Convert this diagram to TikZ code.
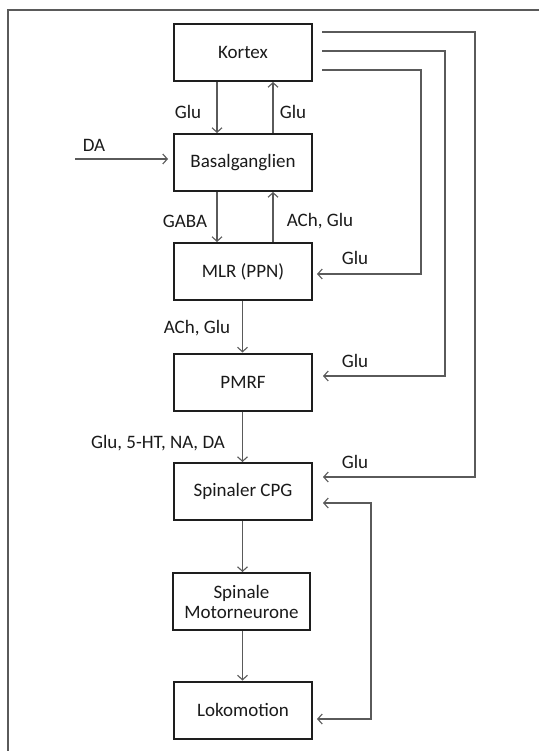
\documentclass[tikz,border=0pt]{standalone}
\usepackage{fontspec}
\setmainfont{Carlito}
\usetikzlibrary{arrows.meta}
\definecolor{linegray}{HTML}{5A5A5A}
\definecolor{boxline}{HTML}{1E1E1E}
\definecolor{txt}{HTML}{1A1A1A}
\begin{document}
\begin{tikzpicture}[x=1pt,y=-1pt,
  font=\fontsize{19}{22}\selectfont,
  every node/.style={text=txt},
  box/.style={draw=boxline,line width=2pt,minimum width=138pt,minimum height=57pt,inner sep=0pt,align=center},
  lbl/.style={inner sep=0pt},
  arr/.style={draw=linegray,line width=1.1pt,-{Straight Barb[length=4.5pt,width=10pt,line width=1.1pt]}},
  dbl/.style={draw=linegray,line width=1.1pt,{Straight Barb[length=4.5pt,width=10pt,line width=1.1pt]}-{Straight Barb[length=4.5pt,width=10pt,line width=1.1pt]}},
  frame/.style={draw=linegray,line width=1.6pt}]
\useasboundingbox (0,0) rectangle (539,751);
% outer frame (top and left edges)
\coordinate (fTR) at (539,10);
\coordinate (fTL) at (8,10);
\coordinate (fBL) at (8,751);
\draw[frame] (fTR) -- (fTL) -- (fBL);

% boxes
\node[box] (kortex) at (243,52.5) {Kortex};
\node[box] (bg) at (243,162.5) {Basalganglien};
\node[box] (mlr) at (243,271.5) {MLR (PPN)};
\node[box] (pmrf) at (243,382) {PMRF};
\node[box] (cpg) at (243,491.5) {Spinaler CPG};
\node[box,minimum width=137pt] (smn) at (241.5,601.5) {Spinale\\[-2pt]Motorneurone};
\node[box] (loko) at (243,710) {Lokomotion};

% vertical guides for the paired arrows
\coordinate (xl) at (217,0);
\coordinate (xr) at (273,0);
\coordinate (xm) at (242.5,0);

\draw[arr] (kortex.south -| xl) -- (bg.north -| xl);
\draw[arr] (bg.north -| xr) -- (kortex.south -| xr);
\draw[arr] (bg.south -| xl) -- (mlr.north -| xl);
\draw[arr] (mlr.north -| xr) -- (bg.south -| xr);
\draw[arr] (mlr.south -| xm) -- (pmrf.north -| xm);
\draw[arr] (pmrf.south -| xm) -- (cpg.north -| xm);
\draw[arr] (cpg.south -| xm) -- (smn.north -| xm);
\draw[arr] (smn.south -| xm) -- (loko.north -| xm);

% dopamine input
\coordinate (daStart) at (75,159);
\coordinate (daEnd) at (168,159);
\draw[arr] (daStart) -- (daEnd);

% descending cortical pathways
\coordinate (k1) at (322,32);
\coordinate (k2) at (322,51);
\coordinate (k3) at (322,70);
\coordinate (mlrIn) at (317,274);
\coordinate (pmrfIn) at (323,376);
\coordinate (cpgIn) at (323,477);
\draw[arr] (k1) -- (475,32) -- (475,477) -- (cpgIn);
\draw[arr] (k2) -- (445,51) -- (445,376) -- (pmrfIn);
\draw[arr] (k3) -- (421,70) -- (421,274) -- (mlrIn);

% sensory feedback loop
\coordinate (fbTop) at (323,503);
\coordinate (fbBot) at (317,719);
\draw[dbl] (fbTop) -- (371,503) -- (371,719) -- (fbBot);

% labels
\node[lbl] (lGluL) at (188,112) {Glu};
\node[lbl] (lGluR) at (293,112) {Glu};
\node[lbl] (lDA) at (94,145) {DA};
\node[lbl] (lGABA) at (185,221) {GABA};
\node[lbl] (lAChR) at (320,221) {ACh, Glu};
\node[lbl] (lAChL) at (197,328) {ACh, Glu};
\node[lbl] (lMix) at (158,443) {Glu, 5-HT, NA, DA};
\node[lbl] (lG1) at (355,258) {Glu};
\node[lbl] (lG2) at (355,361) {Glu};
\node[lbl] (lG3) at (355,462) {Glu};
\end{tikzpicture}
\end{document}
